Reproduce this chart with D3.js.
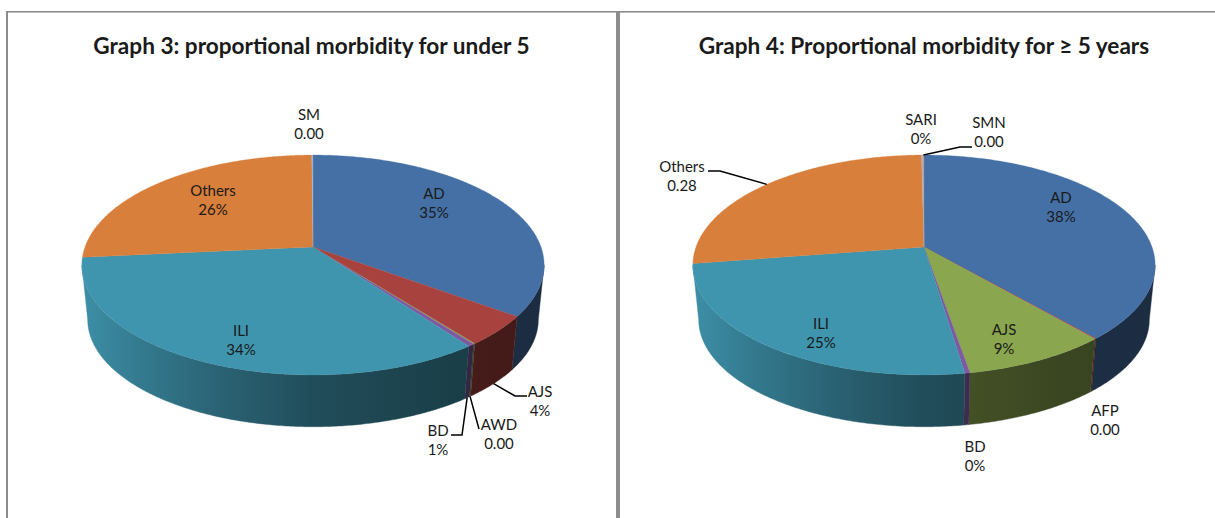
<!DOCTYPE html>
<html>
<head>
<meta charset="utf-8">
<script src="https://cdn.jsdelivr.net/npm/d3@7"></script>
<style>
  html, body { margin: 0; padding: 0; background: #fff; }
  svg { display: block; }
  text { font-family: Lato, "Noto Sans", sans-serif; fill: #1a1a1a; }
</style>
</head>
<body>
<div id="chart"></div>
<script>
// Graph 3 values (percent of the pie), clockwise from the top
var g3Names = ["AD", "AJS", "AWD", "BD", "ILI", "Others", "SM"];
var g3Values = [35.0, 4.4, 0.1, 0.4, 33.6, 26.4, 0.1];
var g3Shown = ["35%", "4%", "0.00", "1%", "34%", "26%", "0.00"];
var g3Colors = ["#4570a6", "#a8423e", "#8a9a4a", "#7d5aa2", "#3f95ae", "#d87f3b", "#9db4cc"];

// Graph 4 values
var g4Names = ["AD", "AFP", "AJS", "BD", "ILI", "Others", "SARI", "SMN"];
var g4Values = [38.5, 0.1, 8.7, 0.3, 25.0, 27.2, 0.1, 0.1];
var g4Shown = ["38%", "0.00", "9%", "0%", "25%", "0.28", "0%", "0.00"];
var g4Colors = ["#4570a6", "#a8423e", "#8aa64e", "#7d5aa2", "#3f95ae", "#d87f3b", "#9db4cc", "#c09a90"];

var g3Title = "Graph 3: proportional morbidity for under 5";
var g4Title = "Graph 4: Proportional morbidity for \u2265 5 years";

// label centres, separate from the data
var g3LabelPos = {
    AD: [434, 199], AJS: [540, 397], AWD: [499, 430], BD: [438, 436],
    ILI: [241, 336], Others: [213, 196], SM: [309, 120]
};
var g4LabelPos = {
    AD: [1061, 203], AFP: [1105, 416], AJS: [1004, 335], BD: [975, 452],
    ILI: [821, 329], Others: [682, 172], SARI: [921, 125], SMN: [989, 128]
};
// leader line bends after the point on the rim
var g3Leaders = {
    AJS: { from: "bottom", pts: [[515, 396], [527, 396]] },
    AWD: { from: "bottom", pts: [[479, 429]] },
    BD: { from: "bottom", pts: [[462, 435], [451, 435]] }
};
var g4Leaders = {
    Others: { from: "top", pts: [[720, 171], [708, 171]] },
    SMN: { from: "top", pts: [[960, 147], [972, 147]] }
};

var width = 1215, height = 518;
var rx = 228, backDown = 107, tilt = 0.1636;  // top disc with perspective
var bottomScale = 0.975, depth = 55;
var shadeStops = [[0, 0.95], [0.12, 0.82], [0.3, 0.66], [0.5, 0.52], [0.8, 0.42], [1, 0.4]];

var svg = d3.select("#chart").append("svg")
    .attr("width", width)
    .attr("height", height);
var defs = svg.append("defs");

// panel frame
var frameColor = "#8c8c8c";
svg.append("rect").attr("x", 6).attr("y", 11).attr("width", width - 6).attr("height", 1.6).attr("fill", frameColor);
svg.append("rect").attr("x", 6).attr("y", 11).attr("width", 2).attr("height", height - 11).attr("fill", frameColor);
svg.append("rect").attr("x", 616).attr("y", 11).attr("width", 4).attr("height", height - 11).attr("fill", frameColor);

makePie3d("g3", 313, 247, g3Names, g3Values, g3Shown, g3Colors, g3LabelPos, g3Leaders);
makePie3d("g4", 924, 247, g4Names, g4Values, g4Shown, g4Colors, g4LabelPos, g4Leaders);

svg.append("text").attr("x", 311.5).attr("y", 54).attr("text-anchor", "middle")
    .style("font-size", "22.6px").style("font-weight", "700").text(g3Title);
svg.append("text").attr("x", 924).attr("y", 54).attr("text-anchor", "middle")
    .style("font-size", "22.6px").style("font-weight", "700").text(g4Title);

function makePie3d(id, cx, cy, names, values, shown, colors, labelPos, leaders) {
    function topPoint(a) {
        var u = Math.sin(a), v = Math.cos(a), w = 1 + tilt * v;
        return [cx + rx * u / w, cy - backDown * v / w];
    }
    function bottomPoint(a) {
        var p = topPoint(a);
        return [cx + (p[0] - cx) * bottomScale, cy + depth + (p[1] - cy) * bottomScale];
    }
    function sample(a0, a1) {
        var n = Math.max(2, Math.ceil((a1 - a0) / 0.01));
        return d3.range(n + 1).map(function (i) { return a0 + (a1 - a0) * i / n; });
    }

    var line = d3.line();
    var slices = d3.pie().sort(null).value(function (d) { return d.value; })(
        names.map(function (n, i) { return { name: n, value: values[i], shown: shown[i], color: colors[i] }; })
    );

    // the walls only show between the two widest points of the disc
    var wallStart = Math.acos(-tilt), wallEnd = 2 * Math.PI - wallStart;
    var g = svg.append("g").attr("id", id);

    slices.forEach(function (s, i) {
        var a0 = Math.max(s.startAngle, wallStart), a1 = Math.min(s.endAngle, wallEnd);
        if (a1 <= a0) return;
        var gradId = id + "-wall-" + i;
        var base = d3.rgb(s.data.color);
        defs.append("linearGradient")
            .attr("id", gradId)
            .attr("gradientUnits", "userSpaceOnUse")
            .attr("x1", cx - rx).attr("x2", cx + rx).attr("y1", 0).attr("y2", 0)
            .selectAll("stop")
            .data(shadeStops)
            .enter().append("stop")
            .attr("offset", function (d) { return d[0]; })
            .attr("stop-color", function (d) {
                return d3.rgb(base.r * d[1], base.g * d[1], base.b * d[1]).formatHex();
            });
        var angles = sample(a0, a1);
        var pts = angles.map(topPoint).concat(angles.slice().reverse().map(bottomPoint));
        g.append("path")
            .attr("d", line(pts) + "Z")
            .attr("fill", "url(#" + gradId + ")")
            .attr("stroke", "url(#" + gradId + ")")
            .attr("stroke-width", 0.4);
    });

    slices.forEach(function (s) {
        var pts = [[cx, cy]].concat(sample(s.startAngle, s.endAngle).map(topPoint));
        g.append("path")
            .attr("d", line(pts) + "Z")
            .attr("fill", s.data.color)
            .attr("stroke", s.data.color)
            .attr("stroke-width", 0.3);
    });

    slices.forEach(function (s) {
        var key = s.data.name;
        if (leaders[key]) {
            var mid = (s.startAngle + s.endAngle) / 2;
            var start = leaders[key].from === "bottom" ? bottomPoint(mid) : topPoint(mid);
            g.append("path")
                .attr("d", line([start].concat(leaders[key].pts)))
                .attr("fill", "none")
                .attr("stroke", "#000")
                .attr("stroke-width", 1.5);
        }
        var pos = labelPos[key];
        var label = g.append("text")
            .attr("text-anchor", "middle")
            .style("font-size", "15px");
        label.append("tspan").attr("x", pos[0]).attr("y", pos[1]).text(key);
        label.append("tspan").attr("x", pos[0]).attr("y", pos[1] + 18.5).text(s.data.shown);
    });
}
</script>
</body>
</html>
